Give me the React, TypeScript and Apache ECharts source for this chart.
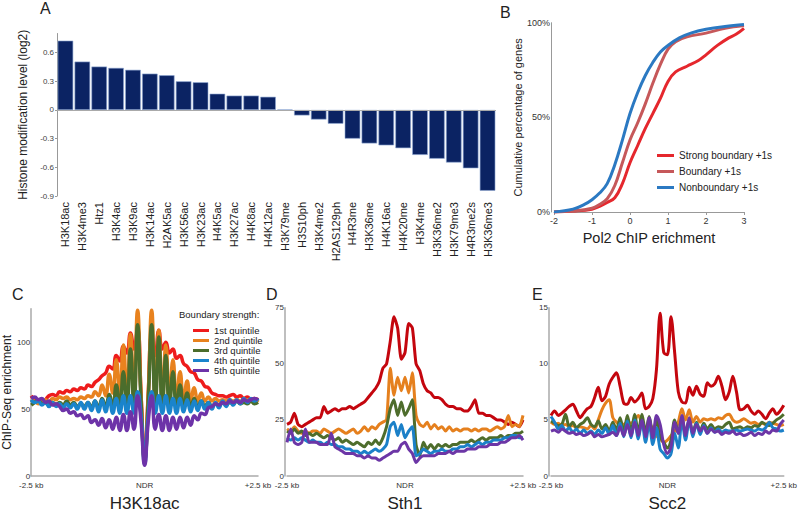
import React, { useEffect, useRef } from "react";
import * as echarts from "echarts";

// ---------- Panel A ----------
const A_CATEGORIES = ["H3K18ac","H3K4me3","Htz1","H3K4ac","H3K9ac","H3K14ac","H2AK5ac","H3K56ac","H3K23ac","H4K5ac","H3K27ac","H4K8ac","H4K12ac","H3K79me","H3S10ph","H3K4me2","H2AS129ph","H4R3me","H3K36me","H4K16ac","H4K20me","H3K4me","H3K36me2","H3K79me3","H4R3me2s","H3K36me3"];
const A_VALUES = [0.725,0.506,0.454,0.44,0.42,0.38,0.363,0.3,0.29,0.17,0.15,0.15,0.138,0.005,-0.057,-0.1,-0.144,-0.3,-0.35,-0.37,-0.4,-0.47,-0.51,-0.55,-0.61,-0.845];
const A_TICKS = [-0.9,-0.6,-0.3,0,0.3,0.6];

// ---------- Panel B ----------
const B_STRONG = [[-2,0],[-1.5,0.005],[-1,0.015],[-0.8,0.03],[-0.6,0.05],[-0.4,0.075],[-0.2,0.15],[0,0.26],[0.2,0.35],[0.4,0.44],[0.6,0.52],[0.8,0.6],[1,0.69],[1.2,0.74],[1.5,0.77],[1.8,0.8],[2,0.83],[2.3,0.88],[2.6,0.92],[2.8,0.94],[3,0.97]];
const B_BOUNDARY = [[-2,0],[-1.5,0.005],[-1,0.02],[-0.8,0.04],[-0.6,0.07],[-0.4,0.14],[-0.2,0.26],[0,0.38],[0.2,0.47],[0.4,0.57],[0.6,0.68],[0.8,0.78],[1,0.86],[1.2,0.9],[1.5,0.925],[2,0.945],[2.5,0.97],[3,0.985]];
const B_NONBOUNDARY = [[-2,0],[-1.5,0.015],[-1.2,0.04],[-1,0.065],[-0.8,0.1],[-0.6,0.15],[-0.4,0.25],[-0.2,0.38],[0,0.52],[0.2,0.63],[0.4,0.72],[0.6,0.79],[0.8,0.845],[1,0.88],[1.3,0.92],[1.6,0.945],[2,0.965],[2.5,0.98],[3,0.99]];
const B_NAMES = ["Strong boundary +1s","Boundary +1s","Nonboundary +1s"];

// ---------- Panels C, D, E (65 positions from -2.5 kb to +2.5 kb) ----------
const POS = Array.from({ length: 65 }, (_, i) => -2.5 + (i * 5) / 64);
const Q_NAMES = ["1st quintile","2nd quintile","3rd quintile","4th quintile","5th quintile"];

const C_Q1 = [60,57,56,55,57,60,61,60,63,62,64,63,65,64,66,65,68,67,70,72,75,77,82,80,90,86,97,92,107,95,110,60,12,60,105,90,109,95,100,92,95,88,90,84,82,78,77,72,71,67,66,62,61,60,60,59,60,61,59,60,58,59,57,58,57];
const C_Q2 = [55,56,54,56,57,55,58,57,59,58,59,57,58,57,59,58,60,59,63,60,68,60,76,62,87,60,98,58,106,56,124,60,12,60,124,56,109,57,98,57,87,56,78,56,71,56,66,56,62,56,59,56,58,56,57,56,57,56,57,56,56,57,56,55,57];
const C_Q3 = [53,55,57,54,55,53,55,53,55,53,56,53,55,52,54,52,55,51,56,51,58,51,61,51,68,51,78,51,95,51,113,55,11,55,113,51,104,51,90,51,78,51,68,51,62,51,58,51,56,52,55,52,54,53,55,53,55,54,56,54,55,54,56,54,55];
const C_Q4 = [57,55,56,53,55,52,55,52,54,51,54,51,54,50,55,50,55,49,56,48,57,48,58,47,58,47,60,47,60,47,63,45,9,45,63,47,60,47,60,47,58,47,58,48,57,48,56,49,56,50,55,50,55,51,56,52,57,53,57,54,58,55,58,56,58];
const C_Q5 = [58,59,57,58,55,56,53,54,52,49,50,47,48,45,46,43,45,40,42,38,43,36,42,35,44,34,46,34,48,35,60,40,8,40,60,35,46,34,45,34,44,35,44,36,44,38,45,42,47,46,51,52,54,53,55,54,56,55,56,55,57,56,57,58,57];

const D_Q1 = [23,24,28,23,22,23,24,25,26,26,31,28,29,30,29,30,30,31,30,31,32,33,35,37,39,42,48,50,60,71,66,52,55,68,66,50,47,41,38,37,35,35,34,32,31,31,30,30,29,29,31,34,28,28,27,27,26,25,25,24,23,24,23,22,25];
const D_Q2 = [21,20,22,20,19,20,19,20,20,19,21,20,19,20,21,20,19,20,21,19,20,22,20,22,21,23,24,25,48,36,44,38,44,37,46,27,23,22,24,21,23,21,22,20,22,20,21,20,21,21,20,21,20,21,21,20,21,22,21,22,27,22,23,22,27];
const D_Q3 = [20,19,21,19,20,18,19,18,19,18,17,18,17,16,17,15,16,15,14,15,14,13,15,14,16,14,17,22,30,34,27,33,27,30,34,14,9,15,12,14,12,14,13,14,13,14,14,15,15,15,16,15,16,17,16,17,17,17,18,17,18,18,19,19,20];
const D_Q4 = [17,16,17,16,17,16,15,16,15,15,14,15,14,14,13,13,12,12,11,11,10,11,10,11,12,11,12,14,22,24,18,23,17,20,22,9,10,12,11,10,11,11,12,11,11,12,12,13,13,14,13,14,15,14,15,15,16,16,16,17,17,18,18,17,17];
const D_Q5 = [15,21,15,14,15,21,15,15,15,14,14,14,19,13,12,11,10,10,10,9,9,8,9,8,8,7,8,9,10,11,11,14,15,12,10,6,8,9,9,9,9,10,10,10,11,10,11,11,11,12,12,12,13,13,13,14,14,14,15,15,16,17,17,18,16];

const E_Q1 = [5.4,5.8,5.4,5.6,5.9,6.2,6.4,5.8,5.2,5.6,6.0,6.2,7.0,7.9,6.7,7.1,8.2,8.8,9.2,8.0,6.5,6.4,7.0,6.6,6.9,7.4,6.0,6.2,6.9,9.5,14.5,11.0,10.8,14.2,11.0,7.5,6.6,6.5,7.9,7.2,8.0,7.3,7.1,8.3,8.0,8.2,8.9,8.0,6.8,7.5,8.9,7.5,5.9,6.0,6.3,5.8,5.5,5.8,5.5,5.1,5.6,6.0,5.5,5.8,6.3];
const E_Q2 = [4.8,4.6,4.7,4.5,4.6,4.4,4.5,4.3,4.4,4.3,4.2,4.5,4.2,5.0,5.9,6.5,6.8,5.2,4.8,4.5,4.6,4.8,4.7,5.0,5.4,4.7,4.1,4.5,4.3,3.6,3.3,3.0,3.2,3.6,4.0,4.8,6.0,5.0,5.9,4.8,5.3,4.8,5.1,5.0,5.1,5.0,5.2,5.1,5.4,5.5,5.0,4.8,4.9,5.1,4.9,4.7,4.8,4.6,4.7,4.6,4.8,4.7,4.6,4.5,4.6];
const E_Q3 = [4.9,4.7,4.5,4.6,5.5,4.4,4.8,4.3,4.6,4.8,5.2,4.6,4.4,4.9,4.2,4.6,4.0,4.8,4.1,5.2,3.9,5.4,3.9,5.5,3.9,5.5,3.9,5.3,3.7,5.0,3.5,3.0,2.5,3.2,5.0,3.8,5.2,3.8,5.0,3.9,4.8,4.0,4.7,4.2,4.6,4.2,4.4,4.3,4.6,4.8,4.2,4.3,4.4,4.2,4.4,4.3,4.5,4.4,4.8,4.6,4.5,4.7,5.0,5.2,5.5];
const E_Q4 = [5.3,4.8,4.2,4.5,4.0,4.3,3.9,4.2,3.8,4.1,3.8,4.0,3.7,4.1,3.8,4.3,3.7,4.5,3.6,4.7,3.5,4.9,3.4,5.0,3.3,4.9,3.0,4.7,2.8,4.3,2.4,2.0,1.6,2.0,3.8,2.5,5.0,3.2,5.0,3.5,4.7,3.7,4.5,3.8,4.3,3.9,4.2,3.9,4.1,4.0,4.0,4.1,4.0,4.1,4.2,4.1,4.0,4.2,4.1,4.3,4.8,4.3,4.2,4.0,4.1];
const E_Q5 = [4.0,4.1,3.9,4.2,4.0,3.8,3.9,3.7,3.8,3.6,3.7,3.9,3.5,3.7,3.5,3.6,3.7,3.9,3.6,4.4,3.6,4.6,3.6,4.8,3.6,5.0,3.5,5.2,3.4,5.4,4.6,2.8,2.0,2.6,4.8,3.8,5.4,3.6,5.2,3.8,4.6,4.0,4.4,3.8,4.2,3.9,4.0,3.7,3.9,3.8,4.0,3.7,3.8,3.6,3.7,3.9,3.6,3.8,3.7,4.0,3.8,4.1,4.0,4.6,5.0];

const C_COLORS = ["#ee1c1c","#e8821e","#4b6d2c","#1a84cc","#6d33a8"];
const DE_COLORS = ["#c4060e","#e5801e","#4e6d2c","#1b80c8","#6c36a6"];
const B_COLORS = ["#e5272d","#c6585a","#2b79c2"];

const FONT = "'Liberation Sans', Arial, sans-serif";

const pairs = (vals: number[]) => vals.map((v, i) => [POS[i], v]);

function profileAxes(gridIndex: number, max: number, ticks: number[], title: string, yName: string, nameGap: number, offset: number) {
  const x = {
    type: "value", gridIndex, min: -2.5, max: 2.5, interval: 2.5,
    axisLine: { show: true, onZero: false, lineStyle: { color: "#aaa", width: 1.5 } },
    axisTick: { show: false }, splitLine: { show: false },
    axisLabel: {
      fontSize: 8, color: "#333", margin: 5,
      formatter: (v: number) => (v < 0 ? "-2.5 kb" : v > 0 ? "+2.5 kb" : "NDR"),
    },
    name: title, nameLocation: "middle", nameGap: 19,
    nameTextStyle: { fontSize: 17, color: "#222", fontFamily: FONT },
  };
  const y = {
    type: "value", gridIndex, min: 0, max, offset,
    axisLine: { show: true, onZero: false, lineStyle: { color: "#aaa", width: 1.5 } },
    axisTick: { show: false, customValues: ticks }, splitLine: { show: false },
    axisLabel: { fontSize: 8, color: "#333", margin: 1, padding: [0, 0, 2, 0], customValues: ticks },
    name: yName, nameLocation: "middle", nameGap,
    nameTextStyle: { fontSize: 12, color: "#222", fontFamily: FONT },
  };
  return { x, y };
}

function profileSeries(idx: number, data: number[][], colors: string[], width: number, smooth: number | boolean) {
  return data.map((vals, k) => ({
    type: "line", name: Q_NAMES[k], xAxisIndex: idx, yAxisIndex: idx,
    data: pairs(vals), showSymbol: false, smooth,
    lineStyle: { color: colors[k], width }, itemStyle: { color: colors[k] },
  }));
}

export default function App() {
  const ref = useRef<HTMLDivElement>(null);
  useEffect(() => {
    if (!ref.current) return;
    const chart = echarts.init(ref.current, undefined, { renderer: "svg" });
    const c = profileAxes(2, 125, [0, 50, 100], "H3K18ac", "ChIP-Seq enrichment", 11, 0);
    const d = profileAxes(3, 75, [0, 25, 50, 75], "Sth1", "", 0, 2);
    const e = profileAxes(4, 15, [0, 5, 10, 15], "Scc2", "", 0, 2);
    const option: any = {
      animation: false,
      textStyle: { fontFamily: FONT },
      grid: [
        { left: 57, top: 33.5, width: 439, height: 162.5 },
        { left: 554, top: 22.7, width: 190, height: 189.3 },
        { left: 23, top: 308.8, width: 235, height: 169.5 },
        { left: 287, top: 307.7, width: 236, height: 169.6 },
        { left: 551, top: 307.7, width: 238, height: 169.6 },
      ],
      xAxis: [
        {
          type: "category", gridIndex: 0, data: A_CATEGORIES,
          axisLine: { show: false }, axisTick: { show: false },
          axisLabel: { interval: 0, rotate: 90, fontSize: 11, color: "#222", margin: 6 },
        },
        {
          type: "value", gridIndex: 1, min: -2, max: 3, interval: 1,
          axisLine: { show: true, onZero: false, lineStyle: { color: "#999" } },
          axisTick: { show: true, length: 3, lineStyle: { color: "#999" } },
          splitLine: { show: false },
          axisLabel: { fontSize: 9, color: "#333", margin: 4 },
          name: "Pol2 ChIP erichment", nameLocation: "middle", nameGap: 18,
          nameTextStyle: { fontSize: 14.5, color: "#222", fontFamily: FONT },
        },
        c.x, d.x, e.x,
      ],
      yAxis: [
        {
          type: "value", gridIndex: 0, min: -0.9, max: 0.8,
          axisLine: { show: true, onZero: false, lineStyle: { color: "#999" } },
          axisTick: { show: true, length: 2, customValues: A_TICKS, lineStyle: { color: "#999" } },
          splitLine: { show: false },
          axisLabel: { fontSize: 8, color: "#444", margin: 3, customValues: A_TICKS },
          name: "Histone modification level (log2)", nameLocation: "middle", nameGap: 21,
          nameTextStyle: { fontSize: 12, color: "#222", fontFamily: FONT },
        },
        {
          type: "value", gridIndex: 1, min: 0, max: 1, interval: 0.5, offset: 3,
          axisLine: { show: true, onZero: false, lineStyle: { color: "#999" } },
          axisTick: { show: false }, splitLine: { show: false },
          axisLabel: { fontSize: 9, color: "#333", margin: 1, formatter: (v: number) => Math.round(v * 100) + "%" },
          name: "Cumulative percentage of genes", nameLocation: "middle", nameGap: 25,
          nameTextStyle: { fontSize: 11, color: "#222", fontFamily: FONT },
        },
        c.y, d.y, e.y,
      ],
      legend: [
        {
          data: B_NAMES, orient: "vertical", left: 652, top: 144, icon: "rect",
          itemWidth: 17, itemHeight: 3, itemGap: 3,
          textStyle: { fontSize: 10, lineHeight: 13, color: "#222", fontFamily: FONT },
        },
        {
          data: Q_NAMES, orient: "vertical", left: 188, top: 320.5, icon: "rect",
          itemWidth: 16, itemHeight: 3, itemGap: 0,
          textStyle: { fontSize: 9.5, lineHeight: 9.2, color: "#222", fontFamily: FONT },
        },
      ],
      graphic: [
        { type: "text", left: 40, top: 0, style: { text: "A", fontSize: 16, fill: "#222", fontFamily: FONT } },
        { type: "text", left: 500, top: 4, style: { text: "B", fontSize: 16, fill: "#222", fontFamily: FONT } },
        { type: "text", left: 12, top: 286, style: { text: "C", fontSize: 16, fill: "#222", fontFamily: FONT } },
        { type: "text", left: 266, top: 286, style: { text: "D", fontSize: 16, fill: "#222", fontFamily: FONT } },
        { type: "text", left: 532, top: 286, style: { text: "E", fontSize: 16, fill: "#222", fontFamily: FONT } },
        { type: "text", left: 179, top: 309, style: { text: "Boundary strength:", fontSize: 9.5, fill: "#222", fontFamily: FONT } },
      ],
      series: [
        {
          type: "bar", xAxisIndex: 0, yAxisIndex: 0, data: A_VALUES, barCategoryGap: "8%",
          itemStyle: { color: "#0b2363", borderColor: "#8fa8d4", borderWidth: 0.6 },
          markLine: {
            silent: true, symbol: "none", label: { show: false },
            lineStyle: { color: "#aaa", type: "solid", width: 1 }, data: [{ yAxis: 0 }],
          },
        },
        ...[B_STRONG, B_BOUNDARY, B_NONBOUNDARY].map((d, k) => ({
          type: "line", name: B_NAMES[k], xAxisIndex: 1, yAxisIndex: 1, data: d,
          showSymbol: false, smooth: 0.4,
          lineStyle: { color: B_COLORS[k], width: 3 }, itemStyle: { color: B_COLORS[k] },
        })),
        ...profileSeries(2, [C_Q1, C_Q2, C_Q3, C_Q4, C_Q5], C_COLORS, 3.5, true),
        ...profileSeries(3, [D_Q1, D_Q2, D_Q3, D_Q4, D_Q5], DE_COLORS, 3, 0.2),
        ...profileSeries(4, [E_Q1, E_Q2, E_Q3, E_Q4, E_Q5], DE_COLORS, 3, 0.3),
      ],
    };
    chart.setOption(option);
    return () => chart.dispose();
  }, []);
  return <div ref={ref} style={{ position: "absolute", left: 0, top: 0, width: 800, height: 513 }} />;
}
